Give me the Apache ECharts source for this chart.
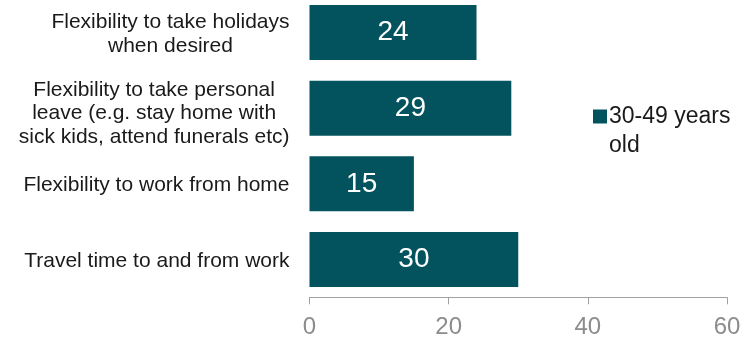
<!DOCTYPE html>
<html>
<head>
<meta charset="utf-8">
<script src="https://cdn.jsdelivr.net/npm/echarts@6/dist/echarts.min.js"></script>
<style>
  html, body { margin: 0; padding: 0; background: #fff; }
  #chart { width: 752px; height: 338px; }
</style>
</head>
<body>
<div id="chart"></div>
<script>
// Reasons rated as important, share of 30-49 year olds
const categories = [
  'Flexibility to take holidays\nwhen desired',
  'Flexibility to take personal\nleave (e.g. stay home with\nsick kids, attend funerals etc)',
  'Flexibility to work from home',
  'Travel time to and from work'
];
const seriesName = '30-49 years old';
const legendLines = ['30-49 years', 'old'];
const values = [24, 29, 15, 30];
const xTicks = [0, 20, 40, 60];

// the three-line label sits a little lower than its bar
const categoryData = categories.map((name, i) => (
  i === 1 ? { value: name, textStyle: { padding: [11, 0, 0, 0] } } : name
));

const chart = echarts.init(document.getElementById('chart'), null, { renderer: 'canvas' });
chart.setOption({
  animation: false,
  textStyle: { fontFamily: 'Liberation Sans, Arial, sans-serif' },
  legend: {
    left: 593,
    top: 73,
    padding: 0,
    orient: 'vertical',
    itemWidth: 14,
    itemHeight: 14,
    itemGap: 0,
    icon: 'rect',
    // blank first line keeps the swatch level with the first text line
    formatter: () => ' \n' + legendLines.join('\n'),
    textStyle: { fontSize: 23, color: '#1a1a1a', lineHeight: 29, padding: [0, 0, 0, -3] },
    data: [seriesName]
  },
  grid: {
    left: 309.5, right: 25, top: -5.3, height: 302.6,
    containLabel: false, outerBoundsMode: 'none'
  },
  xAxis: {
    type: 'value',
    min: xTicks[0],
    max: xTicks[xTicks.length - 1],
    interval: 20,
    splitLine: { show: false },
    axisLine: { show: true, lineStyle: { color: '#a0a0a0', width: 1 } },
    axisTick: { show: true, length: 7, lineStyle: { color: '#a0a0a0' } },
    axisLabel: { fontSize: 24, color: '#8c8c8c', margin: 18 }
  },
  yAxis: {
    type: 'category',
    inverse: true,
    data: categoryData,
    axisLine: { show: false },
    axisTick: { show: false },
    axisLabel: {
      margin: 20,
      align: 'right',
      padding: [3, 0, 0, 0],
      formatter: (v) => v.split('\n').map(s => '{c|' + s + '}').join('\n'),
      rich: { c: { fontSize: 21, color: '#1a1a1a', lineHeight: 23.5, align: 'center' } }
    }
  },
  series: [{
    name: seriesName,
    type: 'bar',
    data: values,
    barCategoryGap: '27.3%',
    itemStyle: { color: '#02535d' },
    label: {
      show: true,
      position: 'inside',
      fontSize: 28,
      color: '#ffffff'
    }
  }]
});
</script>
</body>
</html>
